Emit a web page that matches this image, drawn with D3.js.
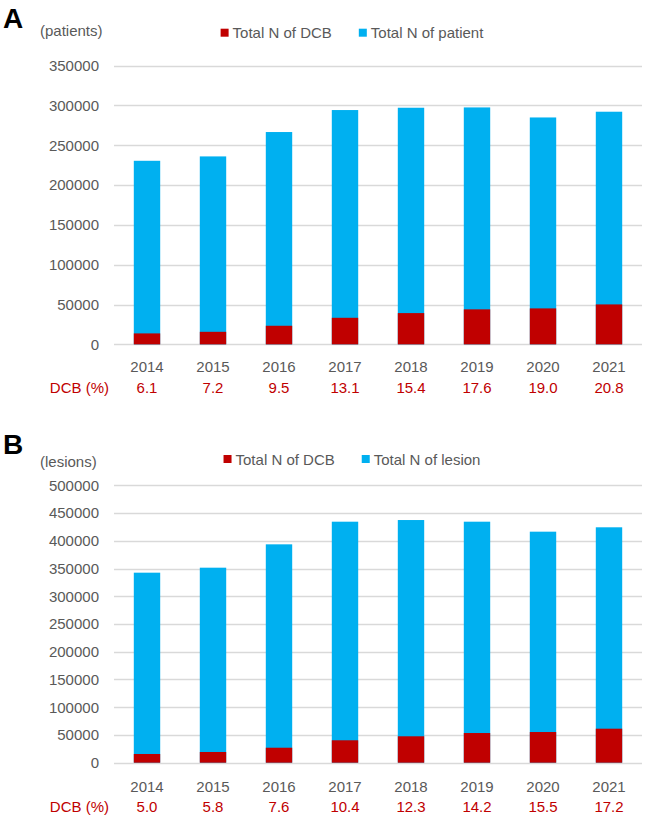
<!DOCTYPE html>
<html><head><meta charset="utf-8">
<script src="https://cdn.jsdelivr.net/npm/d3@7"></script>
<style>
body{margin:0;background:#fff;}
svg{display:block;font-family:"Liberation Sans",Arial,sans-serif;}
</style></head>
<body>
<svg id="chart" width="645" height="821"></svg>
<script>
const years = ["2014","2015","2016","2017","2018","2019","2020","2021"];
// Panel A (patients)
const patientTotal = [230500, 236000, 266600, 294200, 297100, 297500, 284900, 292100];
const patientDCB   = [13800, 15800, 23400, 33400, 39300, 44000, 45200, 50200];
const patientPct   = ["6.1","7.2","9.5","13.1","15.4","17.6","19.0","20.8"];
const patientTicks = [0,50000,100000,150000,200000,250000,300000,350000];
// Panel B (lesions)
const lesionTotal = [342500, 351500, 393600, 434400, 437400, 434400, 416400, 424300];
const lesionDCB   = [15700, 19300, 27000, 40400, 47600, 53500, 55300, 61300];
const lesionPct   = ["5.0","5.8","7.6","10.4","12.3","14.2","15.5","17.2"];
const lesionTicks = [0,50000,100000,150000,200000,250000,300000,350000,400000,450000,500000];

const RED = "#C00000", BLUE = "#00B0F0", GRID = "#D9D9D9", TXT = "#595959";
const svg = d3.select("#chart");

function panel(cfg){
  const g = svg.append("g");
  const x = d3.scaleBand().domain(years).range([114, 642]).paddingInner(0.6).paddingOuter(0.3);
  const y = d3.scaleLinear().domain([0, cfg.max]).range([cfg.y0, cfg.yTop]);

  // letter
  g.append("text").attr("x", 3).attr("y", cfg.letterY).attr("font-size", 28)
    .attr("font-weight", "bold").attr("fill", "#000").text(cfg.letter);
  // unit
  g.append("text").attr("x", 40).attr("y", cfg.unitY).attr("font-size", 15)
    .attr("fill", TXT).text(cfg.unit);

  // gridlines
  g.append("g").selectAll("line").data(cfg.ticks).join("line")
    .attr("x1", 114).attr("x2", 642)
    .attr("y1", d => Math.round(y(d)) + 0.5).attr("y2", d => Math.round(y(d)) + 0.5)
    .attr("stroke", GRID).attr("stroke-width", 1.3);

  // y axis labels
  const yAxis = d3.axisLeft(y).tickValues(cfg.ticks).tickSize(0).tickPadding(0)
    .tickFormat(d3.format("d"));
  const ya = g.append("g").attr("transform", "translate(99,0)").call(yAxis);
  ya.select(".domain").remove();
  ya.selectAll("text").attr("font-size", 15).attr("fill", TXT)
    .attr("font-family", "'Liberation Sans',Arial,sans-serif");

  // bars
  g.append("g").selectAll("rect").data(cfg.total).join("rect")
    .attr("x", (d,i) => x(years[i])).attr("width", x.bandwidth())
    .attr("y", d => y(d)).attr("height", d => y(0) - y(d)).attr("fill", BLUE);
  g.append("g").selectAll("rect").data(cfg.dcb).join("rect")
    .attr("x", (d,i) => x(years[i])).attr("width", x.bandwidth())
    .attr("y", d => y(d)).attr("height", d => y(0) - y(d)).attr("fill", RED);

  // x axis labels
  const xAxis = d3.axisBottom(x).tickSize(0).tickPadding(0);
  const xa = g.append("g").attr("transform", `translate(0,${cfg.yearY})`).call(xAxis);
  xa.select(".domain").remove();
  xa.selectAll("text").attr("font-size", 15).attr("fill", TXT).attr("dy", 0)
    .attr("font-family", "'Liberation Sans',Arial,sans-serif");

  // DCB % row
  g.append("text").attr("x", 109).attr("y", cfg.pctY).attr("text-anchor", "end")
    .attr("font-size", 15).attr("fill", RED).text("DCB (%)");
  g.append("g").selectAll("text").data(cfg.pct).join("text")
    .attr("x", (d,i) => x(years[i]) + x.bandwidth()/2).attr("y", cfg.pctY)
    .attr("text-anchor", "middle").attr("font-size", 15).attr("fill", RED).text(d => d);

  // legend
  const items = [{c: RED, t: "Total N of DCB"}, {c: BLUE, t: cfg.legend2}];
  const lg = g.append("g");
  let cx = 0;
  items.forEach((it, i) => {
    const ig = lg.append("g").attr("transform", `translate(${cx},0)`);
    ig.append("rect").attr("x", 0).attr("y", -4).attr("width", 8).attr("height", 8).attr("fill", it.c);
    const t = ig.append("text").attr("x", 12).attr("y", 5.5).attr("font-size", 15)
      .attr("fill", TXT).text(it.t);
    cx += 12 + t.node().getComputedTextLength() + (i === 0 ? 27 : 0);
  });
  lg.attr("transform", `translate(${352 - cx/2},${cfg.legendY})`);
}

panel({letter:"A", letterY:28, unit:"(patients)", unitY:35.5, max:350000,
  y0:344.4, yTop:65.6, ticks:patientTicks, total:patientTotal, dcb:patientDCB,
  pct:patientPct, yearY:371.5, pctY:393, legend2:"Total N of patient", legendY:32.7});
panel({letter:"B", letterY:454, unit:"(lesions)", unitY:467, max:500000,
  y0:762.7, yTop:485.3, ticks:lesionTicks, total:lesionTotal, dcb:lesionDCB,
  pct:lesionPct, yearY:791.5, pctY:812, legend2:"Total N of lesion", legendY:459});
</script>
</body></html>
